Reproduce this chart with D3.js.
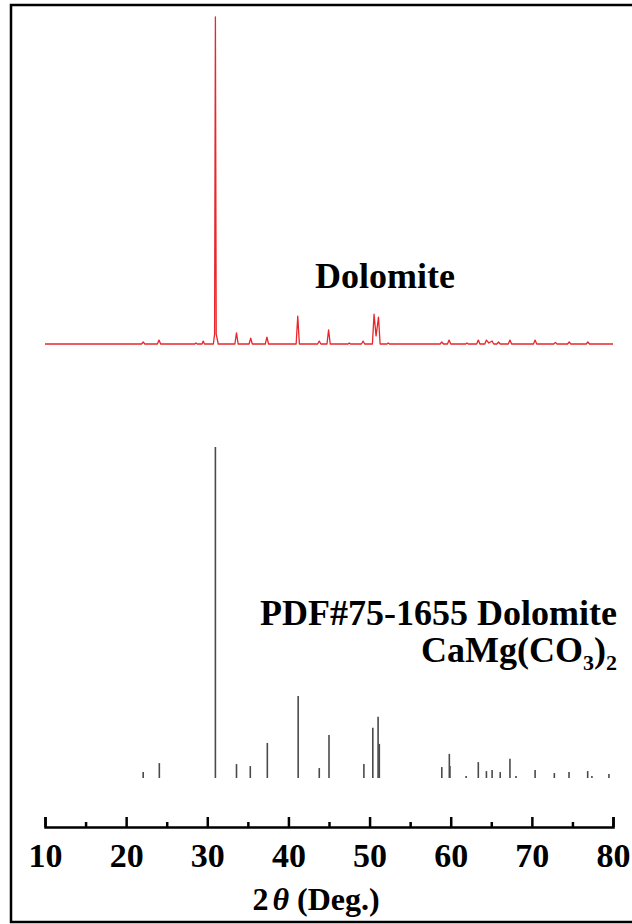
<!DOCTYPE html>
<html>
<head>
<meta charset="utf-8">
<script src="https://cdn.jsdelivr.net/npm/d3@7"></script>
<style>
  html, body { margin: 0; padding: 0; background: #fff; }
  svg text { font-family: "Liberation Serif", "Times New Roman", serif; font-weight: bold; }
</style>
</head>
<body>
<svg id="chart" width="632" height="924"></svg>
<script>
// Measured XRD trace (2θ, relative intensity %)
const measuredTheta = [10, 21.9, 22.1, 22.3, 23.85, 24.05, 24.25, 28.45, 28.6, 28.75, 29.35, 29.5, 29.65,
  30.75, 30.9, 31.0, 31.1, 31.35,
  33.4, 33.6, 33.8, 35.15, 35.35, 35.55, 37.15, 37.35, 37.55,
  40.95, 41.15, 41.35, 43.6, 43.8, 44.0, 44.75, 44.95, 45.15,
  47.35, 47.5, 47.65, 49.0, 49.2, 49.4, 50.35, 50.55, 50.8, 51.1, 51.3,
  52.15, 52.3, 52.45, 58.7, 58.9, 59.1, 59.6, 59.8, 60.0, 61.85, 62.0, 62.15,
  63.2, 63.4, 63.6, 64.2, 64.4, 64.7, 65.1, 65.3, 65.7, 65.9, 66.1,
  67.1, 67.3, 67.5, 70.2, 70.4, 70.6, 72.7, 72.9, 73.1, 74.4, 74.6, 74.8, 76.7, 76.9, 77.1, 80];
const measuredIntensity = [0, 0, 0.6, 0, 0, 1.2, 0, 0, 0.3, 0, 0, 0.9, 0,
  0, 3, 100, 3, 0,
  0, 3.4, 0, 0, 1.8, 0, 0, 2.1, 0,
  0, 8.5, 0, 0, 0.9, 0, 0, 4.3, 0,
  0, 0.3, 0, 0, 0.9, 0, 0, 9.1, 2.5, 8.2, 0,
  0, 0.3, 0, 0, 0.6, 0, 0, 1.2, 0, 0, 0.3, 0,
  0, 1.2, 0, 0, 1.2, 0.3, 0.9, 0, 0, 0.6, 0,
  0, 1.2, 0, 0, 1.2, 0, 0, 0.5, 0, 0, 0.6, 0, 0, 0.6, 0, 0];

// Reference pattern PDF#75-1655 (2θ, relative intensity %)
const refTheta = [22.1, 24.09, 31.0, 33.6, 35.3, 37.4, 41.2, 43.8, 45.0, 49.3, 50.4, 51.05, 51.2,
  58.9, 59.83, 59.9, 61.9, 63.4, 64.4, 65.1, 66.1, 67.3, 68.05, 70.4, 72.77, 74.58, 76.88, 77.4, 79.5];
const refIntensity = [1.8, 4.5, 100, 4.2, 3.6, 10.6, 24.8, 3.0, 13.0, 4.2, 15.2, 18.5, 10.3,
  3.3, 7.3, 3.6, 0.6, 4.8, 2.1, 2.4, 1.8, 5.8, 0.6, 2.4, 1.5, 1.8, 2.1, 0.6, 1.2];

const majorTicks = [10, 20, 30, 40, 50, 60, 70, 80];
const minorTicks = [15, 25, 35, 45, 55, 65, 75];

const svg = d3.select("#chart");

// Frame
svg.append("rect").attr("x", 11).attr("y", 5).attr("width", 640).attr("height", 917)
  .attr("fill", "none").attr("stroke", "#000").attr("stroke-width", 2.5);

const x = d3.scaleLinear().domain([10, 80]).range([45, 613]);
const yTop = d3.scaleLinear().domain([0, 100]).range([344, 17]);
const yBot = d3.scaleLinear().domain([0, 100]).range([778, 447]);

// Measured pattern
const pts = measuredTheta.map((t, i) => [t, measuredIntensity[i]]);
svg.append("path")
  .datum(pts)
  .attr("fill", "none")
  .attr("stroke", "#e8262b")
  .attr("stroke-width", 1.3)
  .attr("stroke-linejoin", "round")
  .attr("d", d3.line().x(d => x(d[0])).y(d => yTop(d[1])));

// Reference sticks
svg.append("g").selectAll("line")
  .data(refTheta.map((t, i) => [t, refIntensity[i]]))
  .join("line")
  .attr("x1", d => x(d[0])).attr("x2", d => x(d[0]))
  .attr("y1", yBot(0)).attr("y2", d => yBot(d[1]))
  .attr("stroke", "#4a4a4a")
  .attr("stroke-width", 1.6);

// Axis
const axisY = 827;
const gMinor = svg.append("g").attr("transform", `translate(0,${axisY})`)
  .call(d3.axisBottom(x).tickValues(minorTicks).tickSize(-5).tickSizeOuter(0).tickFormat(""));
gMinor.select(".domain").remove();
gMinor.selectAll("line").attr("stroke", "#000").attr("stroke-width", 2.5);

const gMajor = svg.append("g").attr("transform", `translate(0,${axisY})`)
  .call(d3.axisBottom(x).tickValues(majorTicks).tickSize(-10).tickSizeOuter(-10).tickPadding(16).tickFormat(d3.format("d")));
gMajor.select(".domain").attr("stroke", "#000").attr("stroke-width", 2.5);
gMajor.selectAll("line").attr("stroke", "#000").attr("stroke-width", 2.5);
gMajor.selectAll("text")
  .attr("font-family", "Liberation Serif, Times New Roman, serif")
  .attr("font-weight", "bold")
  .attr("font-size", 34)
  .attr("fill", "#000");

// Axis title
const title = svg.append("text")
  .attr("x", 316).attr("y", 910)
  .attr("text-anchor", "middle")
  .attr("font-size", 32)
  .attr("fill", "#000");
title.append("tspan").text("2");
title.append("tspan").attr("font-style", "italic").attr("dx", 4).text("θ");
title.append("tspan").text(" (Deg.)");

// Labels
svg.append("text").attr("x", 385).attr("y", 288).attr("text-anchor", "middle")
  .attr("font-size", 36).attr("fill", "#000").text("Dolomite");

svg.append("text").attr("x", 617).attr("y", 625).attr("text-anchor", "end")
  .attr("font-size", 36).attr("fill", "#000").text("PDF#75-1655 Dolomite");

const f = svg.append("text").attr("x", 617).attr("y", 662).attr("text-anchor", "end")
  .attr("font-size", 36).attr("fill", "#000");
f.append("tspan").text("CaMg(CO");
f.append("tspan").attr("font-size", 22).attr("dy", 8).text("3");
f.append("tspan").attr("dy", -8).text(")");
f.append("tspan").attr("font-size", 22).attr("dy", 8).text("2");
</script>
</body>
</html>
